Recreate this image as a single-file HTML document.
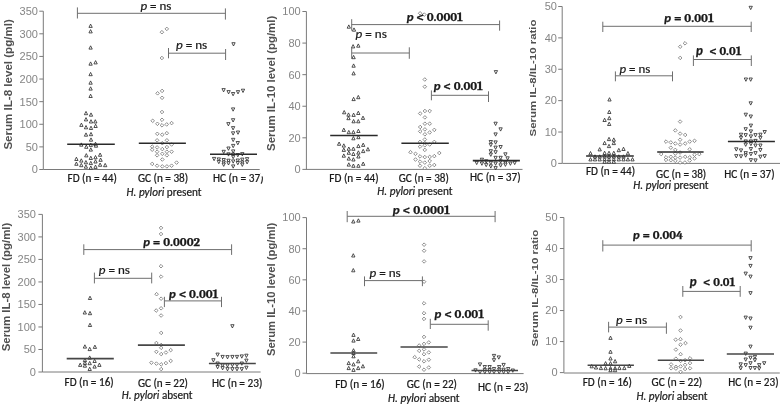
<!DOCTYPE html>
<html><head><meta charset="utf-8"><title>Serum IL-8 and IL-10 levels</title>
<style>html,body{margin:0;padding:0;background:#fff;}svg{display:block;}</style>
</head><body>
<svg width="782" height="406" viewBox="0 0 782 406">
<rect x="0" y="0" width="782" height="406" fill="#fff"/>
<line x1="43.30" y1="11.20" x2="43.30" y2="169.50" stroke="#7a7a7a" stroke-width="1.0"/>
<line x1="39.30" y1="169.50" x2="43.30" y2="169.50" stroke="#7a7a7a" stroke-width="1.0"/>
<text x="37.90" y="173.35" text-anchor="end" font-family="'Liberation Sans', Arial, sans-serif" font-size="11" fill="#858585">0</text>
<line x1="39.30" y1="146.89" x2="43.30" y2="146.89" stroke="#7a7a7a" stroke-width="1.0"/>
<text x="37.90" y="150.74" text-anchor="end" font-family="'Liberation Sans', Arial, sans-serif" font-size="11" fill="#858585">50</text>
<line x1="39.30" y1="124.27" x2="43.30" y2="124.27" stroke="#7a7a7a" stroke-width="1.0"/>
<text x="37.90" y="128.12" text-anchor="end" font-family="'Liberation Sans', Arial, sans-serif" font-size="11" fill="#858585">100</text>
<line x1="39.30" y1="101.66" x2="43.30" y2="101.66" stroke="#7a7a7a" stroke-width="1.0"/>
<text x="37.90" y="105.51" text-anchor="end" font-family="'Liberation Sans', Arial, sans-serif" font-size="11" fill="#858585">150</text>
<line x1="39.30" y1="79.04" x2="43.30" y2="79.04" stroke="#7a7a7a" stroke-width="1.0"/>
<text x="37.90" y="82.89" text-anchor="end" font-family="'Liberation Sans', Arial, sans-serif" font-size="11" fill="#858585">200</text>
<line x1="39.30" y1="56.43" x2="43.30" y2="56.43" stroke="#7a7a7a" stroke-width="1.0"/>
<text x="37.90" y="60.28" text-anchor="end" font-family="'Liberation Sans', Arial, sans-serif" font-size="11" fill="#858585">250</text>
<line x1="39.30" y1="33.81" x2="43.30" y2="33.81" stroke="#7a7a7a" stroke-width="1.0"/>
<text x="37.90" y="37.66" text-anchor="end" font-family="'Liberation Sans', Arial, sans-serif" font-size="11" fill="#858585">300</text>
<line x1="39.30" y1="11.20" x2="43.30" y2="11.20" stroke="#7a7a7a" stroke-width="1.0"/>
<text x="37.90" y="15.05" text-anchor="end" font-family="'Liberation Sans', Arial, sans-serif" font-size="11" fill="#858585">350</text>
<line x1="43.30" y1="169.50" x2="259.70" y2="169.50" stroke="#7a7a7a" stroke-width="1.0"/>
<text transform="translate(11.80,149.60) rotate(-90)" x="0" y="0" font-family="'Liberation Sans', Arial, sans-serif" font-weight="bold" font-size="11.2" fill="#505050" textLength="130.40" lengthAdjust="spacingAndGlyphs">Serum IL-8 level (pg/ml)</text>
<g fill="#fff" stroke="#262626" stroke-width="0.8">
<path d="M88.95 27.40L90.60 24.10L92.25 27.40Z"/>
<path d="M88.95 32.90L90.60 29.60L92.25 32.90Z"/>
<path d="M88.95 49.10L90.60 45.80L92.25 49.10Z"/>
<path d="M88.95 65.20L90.60 61.90L92.25 65.20Z"/>
<path d="M93.95 63.90L95.60 60.60L97.25 63.90Z"/>
<path d="M88.95 75.70L90.60 72.40L92.25 75.70Z"/>
<path d="M88.95 84.20L90.60 80.90L92.25 84.20Z"/>
<path d="M88.95 90.10L90.60 86.80L92.25 90.10Z"/>
<path d="M88.95 97.50L90.60 94.20L92.25 97.50Z"/>
<path d="M84.35 114.70L86.00 111.40L87.65 114.70Z"/>
<path d="M89.35 116.20L91.00 112.90L92.65 116.20Z"/>
<path d="M84.35 120.90L86.00 117.60L87.65 120.90Z"/>
<path d="M89.35 123.00L91.00 119.70L92.65 123.00Z"/>
<path d="M93.65 123.00L95.30 119.70L96.95 123.00Z"/>
<path d="M79.75 126.40L81.40 123.10L83.05 126.40Z"/>
<path d="M84.35 128.80L86.00 125.50L87.65 128.80Z"/>
<path d="M89.35 129.50L91.00 126.20L92.65 129.50Z"/>
<path d="M93.95 127.50L95.60 124.20L97.25 127.50Z"/>
<path d="M84.35 136.20L86.00 132.90L87.65 136.20Z"/>
<path d="M89.35 135.70L91.00 132.40L92.65 135.70Z"/>
<path d="M89.35 141.20L91.00 137.90L92.65 141.20Z"/>
<path d="M79.65 146.20L81.30 142.90L82.95 146.20Z"/>
<path d="M84.65 148.30L86.30 145.00L87.95 148.30Z"/>
<path d="M89.15 146.40L90.80 143.10L92.45 146.40Z"/>
<path d="M93.85 145.50L95.50 142.20L97.15 145.50Z"/>
<path d="M94.35 147.20L96.00 143.90L97.65 147.20Z"/>
<path d="M89.15 151.10L90.80 147.80L92.45 151.10Z"/>
<path d="M84.65 156.90L86.30 153.60L87.95 156.90Z"/>
<path d="M98.45 156.30L100.10 153.00L101.75 156.30Z"/>
<path d="M74.75 160.50L76.40 157.20L78.05 160.50Z"/>
<path d="M89.15 159.50L90.80 156.20L92.45 159.50Z"/>
<path d="M93.85 158.80L95.50 155.50L97.15 158.80Z"/>
<path d="M98.95 161.30L100.60 158.00L102.25 161.30Z"/>
<path d="M79.65 162.10L81.30 158.80L82.95 162.10Z"/>
<path d="M84.25 163.80L85.90 160.50L87.55 163.80Z"/>
<path d="M93.85 163.00L95.50 159.70L97.15 163.00Z"/>
<path d="M74.75 165.30L76.40 162.00L78.05 165.30Z"/>
<path d="M79.65 166.70L81.30 163.40L82.95 166.70Z"/>
<path d="M89.15 164.60L90.80 161.30L92.45 164.60Z"/>
<path d="M98.45 166.30L100.10 163.00L101.75 166.30Z"/>
<path d="M103.55 166.70L105.20 163.40L106.85 166.70Z"/>
<path d="M84.25 168.20L85.90 164.90L87.55 168.20Z"/>
<path d="M89.15 169.30L90.80 166.00L92.45 169.30Z"/>
<path d="M93.85 168.40L95.50 165.10L97.15 168.40Z"/>
</g>
<g fill="#fff" stroke="#6a6a6a" stroke-width="0.75">
<path d="M161.90 30.40L163.70 32.20L161.90 34.00L160.10 32.20Z"/>
<path d="M166.80 27.10L168.60 28.90L166.80 30.70L165.00 28.90Z"/>
<path d="M161.90 56.20L163.70 58.00L161.90 59.80L160.10 58.00Z"/>
<path d="M157.60 91.50L159.40 93.30L157.60 95.10L155.80 93.30Z"/>
<path d="M162.10 89.10L163.90 90.90L162.10 92.70L160.30 90.90Z"/>
<path d="M162.10 96.00L163.90 97.80L162.10 99.60L160.30 97.80Z"/>
<path d="M162.00 110.20L163.80 112.00L162.00 113.80L160.20 112.00Z"/>
<path d="M152.70 119.00L154.50 120.80L152.70 122.60L150.90 120.80Z"/>
<path d="M162.00 118.00L163.80 119.80L162.00 121.60L160.20 119.80Z"/>
<path d="M157.40 122.00L159.20 123.80L157.40 125.60L155.60 123.80Z"/>
<path d="M162.00 123.50L163.80 125.30L162.00 127.10L160.20 125.30Z"/>
<path d="M166.70 122.60L168.50 124.40L166.70 126.20L164.90 124.40Z"/>
<path d="M171.60 121.30L173.40 123.10L171.60 124.90L169.80 123.10Z"/>
<path d="M157.30 132.00L159.10 133.80L157.30 135.60L155.50 133.80Z"/>
<path d="M162.20 132.90L164.00 134.70L162.20 136.50L160.40 134.70Z"/>
<path d="M166.80 131.40L168.60 133.20L166.80 135.00L165.00 133.20Z"/>
<path d="M157.10 138.50L158.90 140.30L157.10 142.10L155.30 140.30Z"/>
<path d="M166.90 138.50L168.70 140.30L166.90 142.10L165.10 140.30Z"/>
<path d="M162.30 141.40L164.10 143.20L162.30 145.00L160.50 143.20Z"/>
<path d="M171.60 142.70L173.40 144.50L171.60 146.30L169.80 144.50Z"/>
<path d="M152.20 144.80L154.00 146.60L152.20 148.40L150.40 146.60Z"/>
<path d="M157.10 145.60L158.90 147.40L157.10 149.20L155.30 147.40Z"/>
<path d="M166.90 145.30L168.70 147.10L166.90 148.90L165.10 147.10Z"/>
<path d="M152.20 147.90L154.00 149.70L152.20 151.50L150.40 149.70Z"/>
<path d="M162.30 147.30L164.10 149.10L162.30 150.90L160.50 149.10Z"/>
<path d="M157.10 149.90L158.90 151.70L157.10 153.50L155.30 151.70Z"/>
<path d="M166.90 149.90L168.70 151.70L166.90 153.50L165.10 151.70Z"/>
<path d="M171.60 149.90L173.40 151.70L171.60 153.50L169.80 151.70Z"/>
<path d="M162.30 152.00L164.10 153.80L162.30 155.60L160.50 153.80Z"/>
<path d="M157.10 153.50L158.90 155.30L157.10 157.10L155.30 155.30Z"/>
<path d="M166.90 153.50L168.70 155.30L166.90 157.10L165.10 155.30Z"/>
<path d="M162.30 157.70L164.10 159.50L162.30 161.30L160.50 159.50Z"/>
<path d="M152.20 162.10L154.00 163.90L152.20 165.70L150.40 163.90Z"/>
<path d="M157.10 163.90L158.90 165.70L157.10 167.50L155.30 165.70Z"/>
<path d="M162.30 164.60L164.10 166.40L162.30 168.20L160.50 166.40Z"/>
<path d="M166.90 164.60L168.70 166.40L166.90 168.20L165.10 166.40Z"/>
<path d="M171.60 163.90L173.40 165.70L171.60 167.50L169.80 165.70Z"/>
<path d="M176.60 160.80L178.40 162.60L176.60 164.40L174.80 162.60Z"/>
</g>
<g fill="#fff" stroke="#262626" stroke-width="0.8">
<path d="M231.85 42.70L233.50 46.00L235.15 42.70Z"/>
<path d="M221.95 88.60L223.60 91.90L225.25 88.60Z"/>
<path d="M226.95 90.60L228.60 93.90L230.25 90.60Z"/>
<path d="M231.45 92.50L233.10 95.80L234.75 92.50Z"/>
<path d="M236.35 90.60L238.00 93.90L239.65 90.60Z"/>
<path d="M241.35 89.20L243.00 92.50L244.65 89.20Z"/>
<path d="M231.45 107.90L233.10 111.20L234.75 107.90Z"/>
<path d="M231.45 118.70L233.10 122.00L234.75 118.70Z"/>
<path d="M226.75 122.60L228.40 125.90L230.05 122.60Z"/>
<path d="M231.45 126.60L233.10 129.90L234.75 126.60Z"/>
<path d="M231.45 131.80L233.10 135.10L234.75 131.80Z"/>
<path d="M236.35 131.00L238.00 134.30L239.65 131.00Z"/>
<path d="M231.55 138.30L233.20 141.60L234.85 138.30Z"/>
<path d="M236.15 141.50L237.80 144.80L239.45 141.50Z"/>
<path d="M231.55 144.40L233.20 147.70L234.85 144.40Z"/>
<path d="M226.85 147.00L228.50 150.30L230.15 147.00Z"/>
<path d="M222.05 150.30L223.70 153.60L225.35 150.30Z"/>
<path d="M231.55 149.90L233.20 153.20L234.85 149.90Z"/>
<path d="M226.85 152.80L228.50 156.10L230.15 152.80Z"/>
<path d="M231.55 153.10L233.20 156.40L234.85 153.10Z"/>
<path d="M236.15 153.50L237.80 156.80L239.45 153.50Z"/>
<path d="M240.65 152.60L242.30 155.90L243.95 152.60Z"/>
<path d="M231.55 155.40L233.20 158.70L234.85 155.40Z"/>
<path d="M212.45 157.40L214.10 160.70L215.75 157.40Z"/>
<path d="M217.15 157.90L218.80 161.20L220.45 157.90Z"/>
<path d="M222.05 158.50L223.70 161.80L225.35 158.50Z"/>
<path d="M226.85 159.20L228.50 162.50L230.15 159.20Z"/>
<path d="M231.55 159.90L233.20 163.20L234.85 159.90Z"/>
<path d="M236.15 159.00L237.80 162.30L239.45 159.00Z"/>
<path d="M240.65 158.10L242.30 161.40L243.95 158.10Z"/>
<path d="M245.45 157.60L247.10 160.90L248.75 157.60Z"/>
<path d="M217.15 160.40L218.80 163.70L220.45 160.40Z"/>
<path d="M222.05 161.00L223.70 164.30L225.35 161.00Z"/>
<path d="M226.85 161.70L228.50 165.00L230.15 161.70Z"/>
<path d="M236.15 161.50L237.80 164.80L239.45 161.50Z"/>
<path d="M240.65 161.00L242.30 164.30L243.95 161.00Z"/>
<path d="M245.45 160.60L247.10 163.90L248.75 160.60Z"/>
<path d="M222.05 163.10L223.70 166.40L225.35 163.10Z"/>
<path d="M240.65 163.10L242.30 166.40L243.95 163.10Z"/>
<path d="M231.55 164.90L233.20 168.20L234.85 164.90Z"/>
</g>
<line x1="67.20" y1="144.20" x2="114.80" y2="144.20" stroke="#2a2a2a" stroke-width="1.55"/>
<line x1="138.80" y1="143.20" x2="185.90" y2="143.20" stroke="#2a2a2a" stroke-width="1.55"/>
<line x1="210.00" y1="154.30" x2="257.00" y2="154.30" stroke="#2a2a2a" stroke-width="1.55"/>
<line x1="77.40" y1="13.30" x2="225.40" y2="13.30" stroke="#6e6e6e" stroke-width="1"/>
<line x1="77.40" y1="7.40" x2="77.40" y2="18.50" stroke="#6e6e6e" stroke-width="1"/>
<line x1="225.40" y1="8.40" x2="225.40" y2="19.60" stroke="#6e6e6e" stroke-width="1"/>
<text x="140.40" y="10.00" font-family="Carlito, 'Liberation Sans', sans-serif" font-size="13" fill="#1a1a1a" stroke="#1a1a1a" stroke-width="0.22" textLength="31.00" lengthAdjust="spacingAndGlyphs"><tspan font-style="italic">p</tspan> = ns</text>
<line x1="168.50" y1="53.20" x2="225.60" y2="53.20" stroke="#6e6e6e" stroke-width="1"/>
<line x1="168.50" y1="48.00" x2="168.50" y2="58.30" stroke="#6e6e6e" stroke-width="1"/>
<line x1="225.60" y1="49.00" x2="225.60" y2="60.00" stroke="#6e6e6e" stroke-width="1"/>
<text x="176.00" y="49.40" font-family="Carlito, 'Liberation Sans', sans-serif" font-size="13" fill="#1a1a1a" stroke="#1a1a1a" stroke-width="0.22" textLength="31.20" lengthAdjust="spacingAndGlyphs"><tspan font-style="italic">p</tspan> = ns</text>
<text x="67.50" y="181.50" font-family="Carlito, 'Liberation Sans', sans-serif" font-size="11.2" fill="#1a1a1a" stroke="#1a1a1a" stroke-width="0.22" textLength="49.40" lengthAdjust="spacingAndGlyphs">FD (n = 44)</text>
<text x="137.90" y="181.50" font-family="Carlito, 'Liberation Sans', sans-serif" font-size="11.2" fill="#1a1a1a" stroke="#1a1a1a" stroke-width="0.22" textLength="50.30" lengthAdjust="spacingAndGlyphs">GC (n = 38)</text>
<clipPath id="c1"><rect x="0" y="0" width="260.6" height="406"/><rect x="260" y="176.6" width="6" height="10"/></clipPath>
<g clip-path="url(#c1)">
<text x="213.00" y="181.50" font-family="Carlito, 'Liberation Sans', sans-serif" font-size="11.2" fill="#1a1a1a" stroke="#1a1a1a" stroke-width="0.22" textLength="50.60" lengthAdjust="spacingAndGlyphs">HC (n = 37)</text>
</g>
<text x="126.60" y="196.00" font-family="Carlito, 'Liberation Sans', sans-serif" font-size="11.5" fill="#1a1a1a" stroke="#1a1a1a" stroke-width="0.22" textLength="74.90" lengthAdjust="spacingAndGlyphs"><tspan font-style="italic">H. pylori</tspan> present</text>
<line x1="306.40" y1="11.50" x2="306.40" y2="169.40" stroke="#7a7a7a" stroke-width="1.0"/>
<line x1="302.40" y1="169.40" x2="306.40" y2="169.40" stroke="#7a7a7a" stroke-width="1.0"/>
<text x="300.70" y="173.25" text-anchor="end" font-family="'Liberation Sans', Arial, sans-serif" font-size="11" fill="#858585">0</text>
<line x1="302.40" y1="137.82" x2="306.40" y2="137.82" stroke="#7a7a7a" stroke-width="1.0"/>
<text x="300.70" y="141.67" text-anchor="end" font-family="'Liberation Sans', Arial, sans-serif" font-size="11" fill="#858585">20</text>
<line x1="302.40" y1="106.24" x2="306.40" y2="106.24" stroke="#7a7a7a" stroke-width="1.0"/>
<text x="300.70" y="110.09" text-anchor="end" font-family="'Liberation Sans', Arial, sans-serif" font-size="11" fill="#858585">40</text>
<line x1="302.40" y1="74.66" x2="306.40" y2="74.66" stroke="#7a7a7a" stroke-width="1.0"/>
<text x="300.70" y="78.51" text-anchor="end" font-family="'Liberation Sans', Arial, sans-serif" font-size="11" fill="#858585">60</text>
<line x1="302.40" y1="43.08" x2="306.40" y2="43.08" stroke="#7a7a7a" stroke-width="1.0"/>
<text x="300.70" y="46.93" text-anchor="end" font-family="'Liberation Sans', Arial, sans-serif" font-size="11" fill="#858585">80</text>
<line x1="302.40" y1="11.50" x2="306.40" y2="11.50" stroke="#7a7a7a" stroke-width="1.0"/>
<text x="300.70" y="15.35" text-anchor="end" font-family="'Liberation Sans', Arial, sans-serif" font-size="11" fill="#858585">100</text>
<line x1="306.00" y1="169.40" x2="522.50" y2="169.40" stroke="#7a7a7a" stroke-width="1.0"/>
<text transform="translate(275.10,150.90) rotate(-90)" x="0" y="0" font-family="'Liberation Sans', Arial, sans-serif" font-weight="bold" font-size="11.2" fill="#505050" textLength="135.10" lengthAdjust="spacingAndGlyphs">Serum IL-10 level (pg/ml)</text>
<g fill="#fff" stroke="#262626" stroke-width="0.8">
<path d="M347.15 28.20L348.80 24.90L350.45 28.20Z"/>
<path d="M352.35 31.20L354.00 27.90L355.65 31.20Z"/>
<path d="M351.45 47.90L353.10 44.60L354.75 47.90Z"/>
<path d="M356.65 47.20L358.30 43.90L359.95 47.20Z"/>
<path d="M351.95 58.70L353.60 55.40L355.25 58.70Z"/>
<path d="M351.95 67.20L353.60 63.90L355.25 67.20Z"/>
<path d="M351.95 74.90L353.60 71.60L355.25 74.90Z"/>
<path d="M351.95 100.60L353.60 97.30L355.25 100.60Z"/>
<path d="M356.65 98.70L358.30 95.40L359.95 98.70Z"/>
<path d="M342.55 113.80L344.20 110.50L345.85 113.80Z"/>
<path d="M346.85 116.20L348.50 112.90L350.15 116.20Z"/>
<path d="M351.95 116.40L353.60 113.10L355.25 116.40Z"/>
<path d="M356.65 114.50L358.30 111.20L359.95 114.50Z"/>
<path d="M346.85 119.70L348.50 116.40L350.15 119.70Z"/>
<path d="M361.35 119.40L363.00 116.10L364.65 119.40Z"/>
<path d="M351.95 122.80L353.60 119.50L355.25 122.80Z"/>
<path d="M356.65 122.80L358.30 119.50L359.95 122.80Z"/>
<path d="M342.15 131.40L343.80 128.10L345.45 131.40Z"/>
<path d="M347.15 133.70L348.80 130.40L350.45 133.70Z"/>
<path d="M351.75 133.70L353.40 130.40L355.05 133.70Z"/>
<path d="M356.75 132.50L358.40 129.20L360.05 132.50Z"/>
<path d="M351.75 139.80L353.40 136.50L355.05 139.80Z"/>
<path d="M356.75 138.70L358.40 135.40L360.05 138.70Z"/>
<path d="M337.45 145.30L339.10 142.00L340.75 145.30Z"/>
<path d="M342.15 147.10L343.80 143.80L345.45 147.10Z"/>
<path d="M356.75 147.60L358.40 144.30L360.05 147.60Z"/>
<path d="M361.55 146.40L363.20 143.10L364.85 146.40Z"/>
<path d="M342.15 151.40L343.80 148.10L345.45 151.40Z"/>
<path d="M347.15 150.30L348.80 147.00L350.45 150.30Z"/>
<path d="M351.75 150.30L353.40 147.00L355.05 150.30Z"/>
<path d="M361.55 152.60L363.20 149.30L364.85 152.60Z"/>
<path d="M366.25 150.80L367.90 147.50L369.55 150.80Z"/>
<path d="M347.15 154.30L348.80 151.00L350.45 154.30Z"/>
<path d="M351.75 155.50L353.40 152.20L355.05 155.50Z"/>
<path d="M356.75 154.10L358.40 150.80L360.05 154.10Z"/>
<path d="M342.15 157.20L343.80 153.90L345.45 157.20Z"/>
<path d="M356.75 158.00L358.40 154.70L360.05 158.00Z"/>
<path d="M347.15 160.10L348.80 156.80L350.45 160.10Z"/>
<path d="M351.75 161.00L353.40 157.70L355.05 161.00Z"/>
<path d="M347.15 166.10L348.80 162.80L350.45 166.10Z"/>
<path d="M351.75 167.30L353.40 164.00L355.05 167.30Z"/>
<path d="M356.75 167.30L358.40 164.00L360.05 167.30Z"/>
<path d="M361.55 165.30L363.20 162.00L364.85 165.30Z"/>
</g>
<g fill="#fff" stroke="#6a6a6a" stroke-width="0.75">
<path d="M420.10 11.50L421.90 13.30L420.10 15.10L418.30 13.30Z"/>
<path d="M424.30 12.80L426.10 14.60L424.30 16.40L422.50 14.60Z"/>
<path d="M424.80 77.70L426.60 79.50L424.80 81.30L423.00 79.50Z"/>
<path d="M424.80 84.90L426.60 86.70L424.80 88.50L423.00 86.70Z"/>
<path d="M420.20 111.70L422.00 113.50L420.20 115.30L418.40 113.50Z"/>
<path d="M424.90 109.20L426.70 111.00L424.90 112.80L423.10 111.00Z"/>
<path d="M429.70 109.20L431.50 111.00L429.70 112.80L427.90 111.00Z"/>
<path d="M424.90 115.60L426.70 117.40L424.90 119.20L423.10 117.40Z"/>
<path d="M424.90 121.90L426.70 123.70L424.90 125.50L423.10 123.70Z"/>
<path d="M429.70 121.90L431.50 123.70L429.70 125.50L427.90 123.70Z"/>
<path d="M420.20 125.20L422.00 127.00L420.20 128.80L418.40 127.00Z"/>
<path d="M424.90 127.60L426.70 129.40L424.90 131.20L423.10 129.40Z"/>
<path d="M434.30 128.10L436.10 129.90L434.30 131.70L432.50 129.90Z"/>
<path d="M420.20 129.60L422.00 131.40L420.20 133.20L418.40 131.40Z"/>
<path d="M429.70 130.60L431.50 132.40L429.70 134.20L427.90 132.40Z"/>
<path d="M424.90 132.50L426.70 134.30L424.90 136.10L423.10 134.30Z"/>
<path d="M424.80 137.70L426.60 139.50L424.80 141.30L423.00 139.50Z"/>
<path d="M420.00 140.10L421.80 141.90L420.00 143.70L418.20 141.90Z"/>
<path d="M434.30 140.10L436.10 141.90L434.30 143.70L432.50 141.90Z"/>
<path d="M424.80 141.40L426.60 143.20L424.80 145.00L423.00 143.20Z"/>
<path d="M429.70 142.70L431.50 144.50L429.70 146.30L427.90 144.50Z"/>
<path d="M420.00 144.80L421.80 146.60L420.00 148.40L418.20 146.60Z"/>
<path d="M424.80 143.50L426.60 145.30L424.80 147.10L423.00 145.30Z"/>
<path d="M424.80 148.10L426.60 149.90L424.80 151.70L423.00 149.90Z"/>
<path d="M410.50 150.40L412.30 152.20L410.50 154.00L408.70 152.20Z"/>
<path d="M415.50 152.00L417.30 153.80L415.50 155.60L413.70 153.80Z"/>
<path d="M439.30 151.20L441.10 153.00L439.30 154.80L437.50 153.00Z"/>
<path d="M420.00 154.60L421.80 156.40L420.00 158.20L418.20 156.40Z"/>
<path d="M424.80 155.30L426.60 157.10L424.80 158.90L423.00 157.10Z"/>
<path d="M429.70 155.10L431.50 156.90L429.70 158.70L427.90 156.90Z"/>
<path d="M434.30 154.30L436.10 156.10L434.30 157.90L432.50 156.10Z"/>
<path d="M415.50 157.70L417.30 159.50L415.50 161.30L413.70 159.50Z"/>
<path d="M429.70 159.20L431.50 161.00L429.70 162.80L427.90 161.00Z"/>
<path d="M420.00 159.80L421.80 161.60L420.00 163.40L418.20 161.60Z"/>
<path d="M424.80 160.80L426.60 162.60L424.80 164.40L423.00 162.60Z"/>
<path d="M420.00 163.90L421.80 165.70L420.00 167.50L418.20 165.70Z"/>
<path d="M429.70 163.90L431.50 165.70L429.70 167.50L427.90 165.70Z"/>
<path d="M434.30 163.20L436.10 165.00L434.30 166.80L432.50 165.00Z"/>
<path d="M424.80 166.40L426.60 168.20L424.80 170.00L423.00 168.20Z"/>
</g>
<g fill="#fff" stroke="#262626" stroke-width="0.8">
<path d="M494.25 70.60L495.90 73.90L497.55 70.60Z"/>
<path d="M493.95 122.20L495.60 125.50L497.25 122.20Z"/>
<path d="M498.95 127.80L500.60 131.10L502.25 127.80Z"/>
<path d="M493.95 132.90L495.60 136.20L497.25 132.90Z"/>
<path d="M489.15 140.50L490.80 143.80L492.45 140.50Z"/>
<path d="M493.95 140.90L495.60 144.20L497.25 140.90Z"/>
<path d="M489.15 143.30L490.80 146.60L492.45 143.30Z"/>
<path d="M493.95 146.10L495.60 149.40L497.25 146.10Z"/>
<path d="M498.95 145.50L500.60 148.80L502.25 145.50Z"/>
<path d="M489.15 149.70L490.80 153.00L492.45 149.70Z"/>
<path d="M493.95 150.70L495.60 154.00L497.25 150.70Z"/>
<path d="M503.75 152.80L505.40 156.10L507.05 152.80Z"/>
<path d="M489.15 153.10L490.80 156.40L492.45 153.10Z"/>
<path d="M480.25 158.20L481.90 161.50L483.55 158.20Z"/>
<path d="M493.95 156.30L495.60 159.60L497.25 156.30Z"/>
<path d="M498.95 156.30L500.60 159.60L502.25 156.30Z"/>
<path d="M505.95 156.80L507.60 160.10L509.25 156.80Z"/>
<path d="M475.05 161.30L476.70 164.60L478.35 161.30Z"/>
<path d="M480.25 162.00L481.90 165.30L483.55 162.00Z"/>
<path d="M484.55 159.80L486.20 163.10L487.85 159.80Z"/>
<path d="M489.15 161.30L490.80 164.60L492.45 161.30Z"/>
<path d="M493.95 162.00L495.60 165.30L497.25 162.00Z"/>
<path d="M498.95 159.80L500.60 163.10L502.25 159.80Z"/>
<path d="M503.75 161.30L505.40 164.60L507.05 161.30Z"/>
<path d="M508.75 162.00L510.40 165.30L512.05 162.00Z"/>
<path d="M513.05 161.30L514.70 164.60L516.35 161.30Z"/>
<path d="M484.55 163.40L486.20 166.70L487.85 163.40Z"/>
<path d="M489.15 164.80L490.80 168.10L492.45 164.80Z"/>
<path d="M498.95 163.80L500.60 167.10L502.25 163.80Z"/>
<path d="M503.75 163.10L505.40 166.40L507.05 163.10Z"/>
<path d="M493.95 166.60L495.60 169.90L497.25 166.60Z"/>
</g>
<line x1="330.20" y1="135.40" x2="377.70" y2="135.40" stroke="#2a2a2a" stroke-width="1.55"/>
<line x1="401.40" y1="143.20" x2="448.80" y2="143.20" stroke="#2a2a2a" stroke-width="1.55"/>
<line x1="472.80" y1="160.60" x2="519.90" y2="160.60" stroke="#2a2a2a" stroke-width="1.55"/>
<line x1="351.70" y1="24.60" x2="499.60" y2="24.60" stroke="#6e6e6e" stroke-width="1"/>
<line x1="351.70" y1="19.20" x2="351.70" y2="30.70" stroke="#6e6e6e" stroke-width="1"/>
<line x1="499.60" y1="20.50" x2="499.60" y2="30.70" stroke="#6e6e6e" stroke-width="1"/>
<text x="406.70" y="21.00" font-family="Caladea, 'Liberation Serif', serif" font-size="12.0" font-weight="bold" fill="#1a1a1a" stroke="#1a1a1a" stroke-width="0.25" textLength="56.30" lengthAdjust="spacingAndGlyphs"><tspan font-family="Carlito, 'Liberation Sans', sans-serif" font-style="italic">p</tspan> &lt; 0.0001</text>
<line x1="351.70" y1="53.00" x2="409.30" y2="53.00" stroke="#6e6e6e" stroke-width="1"/>
<line x1="351.70" y1="47.30" x2="351.70" y2="58.80" stroke="#6e6e6e" stroke-width="1"/>
<line x1="409.30" y1="47.30" x2="409.30" y2="58.80" stroke="#6e6e6e" stroke-width="1"/>
<text x="355.60" y="37.90" font-family="Carlito, 'Liberation Sans', sans-serif" font-size="13" fill="#1a1a1a" stroke="#1a1a1a" stroke-width="0.22" textLength="31.20" lengthAdjust="spacingAndGlyphs"><tspan font-style="italic">p</tspan> = ns</text>
<line x1="431.40" y1="95.30" x2="488.50" y2="95.30" stroke="#6e6e6e" stroke-width="1"/>
<line x1="431.40" y1="90.40" x2="431.40" y2="100.30" stroke="#6e6e6e" stroke-width="1"/>
<line x1="488.50" y1="91.30" x2="488.50" y2="102.00" stroke="#6e6e6e" stroke-width="1"/>
<text x="433.70" y="89.50" font-family="Caladea, 'Liberation Serif', serif" font-size="12.0" font-weight="bold" fill="#1a1a1a" stroke="#1a1a1a" stroke-width="0.25" textLength="49.30" lengthAdjust="spacingAndGlyphs"><tspan font-family="Carlito, 'Liberation Sans', sans-serif" font-style="italic">p</tspan> &lt; 0.001</text>
<text x="329.30" y="182.30" font-family="Carlito, 'Liberation Sans', sans-serif" font-size="11.2" fill="#1a1a1a" stroke="#1a1a1a" stroke-width="0.22" textLength="49.40" lengthAdjust="spacingAndGlyphs">FD (n = 44)</text>
<text x="398.80" y="182.30" font-family="Carlito, 'Liberation Sans', sans-serif" font-size="11.2" fill="#1a1a1a" stroke="#1a1a1a" stroke-width="0.22" textLength="50.10" lengthAdjust="spacingAndGlyphs">GC (n = 38)</text>
<text x="470.00" y="181.30" font-family="Carlito, 'Liberation Sans', sans-serif" font-size="11.2" fill="#1a1a1a" stroke="#1a1a1a" stroke-width="0.22" textLength="50.80" lengthAdjust="spacingAndGlyphs">HC (n = 37)</text>
<text x="377.30" y="194.60" font-family="Carlito, 'Liberation Sans', sans-serif" font-size="11.5" fill="#1a1a1a" stroke="#1a1a1a" stroke-width="0.22" textLength="75.20" lengthAdjust="spacingAndGlyphs"><tspan font-style="italic">H. pylori</tspan> present</text>
<line x1="562.20" y1="6.50" x2="562.20" y2="163.40" stroke="#7a7a7a" stroke-width="1.0"/>
<line x1="558.20" y1="163.40" x2="562.20" y2="163.40" stroke="#7a7a7a" stroke-width="1.0"/>
<text x="556.90" y="167.25" text-anchor="end" font-family="'Liberation Sans', Arial, sans-serif" font-size="11" fill="#858585">0</text>
<line x1="558.20" y1="132.02" x2="562.20" y2="132.02" stroke="#7a7a7a" stroke-width="1.0"/>
<text x="556.90" y="135.87" text-anchor="end" font-family="'Liberation Sans', Arial, sans-serif" font-size="11" fill="#858585">10</text>
<line x1="558.20" y1="100.64" x2="562.20" y2="100.64" stroke="#7a7a7a" stroke-width="1.0"/>
<text x="556.90" y="104.49" text-anchor="end" font-family="'Liberation Sans', Arial, sans-serif" font-size="11" fill="#858585">20</text>
<line x1="558.20" y1="69.26" x2="562.20" y2="69.26" stroke="#7a7a7a" stroke-width="1.0"/>
<text x="556.90" y="73.11" text-anchor="end" font-family="'Liberation Sans', Arial, sans-serif" font-size="11" fill="#858585">30</text>
<line x1="558.20" y1="37.88" x2="562.20" y2="37.88" stroke="#7a7a7a" stroke-width="1.0"/>
<text x="556.90" y="41.73" text-anchor="end" font-family="'Liberation Sans', Arial, sans-serif" font-size="11" fill="#858585">40</text>
<line x1="558.20" y1="6.50" x2="562.20" y2="6.50" stroke="#7a7a7a" stroke-width="1.0"/>
<text x="556.90" y="10.35" text-anchor="end" font-family="'Liberation Sans', Arial, sans-serif" font-size="11" fill="#858585">50</text>
<line x1="562.40" y1="163.40" x2="780.00" y2="163.40" stroke="#7a7a7a" stroke-width="1.0"/>
<text transform="translate(536.10,136.40) rotate(-90)" x="0" y="0" font-family="'Liberation Sans', Arial, sans-serif" font-weight="bold" font-size="9.6" fill="#505050" textLength="116.90" lengthAdjust="spacingAndGlyphs">Serum IL-8/IL-10 ratio</text>
<g fill="#fff" stroke="#262626" stroke-width="0.8">
<path d="M607.85 101.00L609.50 97.70L611.15 101.00Z"/>
<path d="M607.65 113.50L609.30 110.20L610.95 113.50Z"/>
<path d="M602.95 121.50L604.60 118.20L606.25 121.50Z"/>
<path d="M607.65 119.70L609.30 116.40L610.95 119.70Z"/>
<path d="M607.55 125.50L609.20 122.20L610.85 125.50Z"/>
<path d="M607.35 140.60L609.00 137.30L610.65 140.60Z"/>
<path d="M612.15 141.20L613.80 137.90L615.45 141.20Z"/>
<path d="M602.95 144.60L604.60 141.30L606.25 144.60Z"/>
<path d="M612.15 144.60L613.80 141.30L615.45 144.60Z"/>
<path d="M607.35 147.60L609.00 144.30L610.65 147.60Z"/>
<path d="M598.05 150.90L599.70 147.60L601.35 150.90Z"/>
<path d="M617.15 151.70L618.80 148.40L620.45 151.70Z"/>
<path d="M621.85 150.50L623.50 147.20L625.15 150.50Z"/>
<path d="M588.85 154.80L590.50 151.50L592.15 154.80Z"/>
<path d="M602.95 154.50L604.60 151.20L606.25 154.50Z"/>
<path d="M607.35 154.50L609.00 151.20L610.65 154.50Z"/>
<path d="M612.15 154.50L613.80 151.20L615.45 154.50Z"/>
<path d="M626.25 154.80L627.90 151.50L629.55 154.80Z"/>
<path d="M593.35 158.10L595.00 154.80L596.65 158.10Z"/>
<path d="M598.05 158.10L599.70 154.80L601.35 158.10Z"/>
<path d="M602.95 158.10L604.60 154.80L606.25 158.10Z"/>
<path d="M607.35 158.10L609.00 154.80L610.65 158.10Z"/>
<path d="M612.15 158.10L613.80 154.80L615.45 158.10Z"/>
<path d="M617.15 158.10L618.80 154.80L620.45 158.10Z"/>
<path d="M621.85 158.10L623.50 154.80L625.15 158.10Z"/>
<path d="M588.85 160.90L590.50 157.60L592.15 160.90Z"/>
<path d="M593.35 160.90L595.00 157.60L596.65 160.90Z"/>
<path d="M598.05 160.90L599.70 157.60L601.35 160.90Z"/>
<path d="M602.95 160.90L604.60 157.60L606.25 160.90Z"/>
<path d="M607.35 160.90L609.00 157.60L610.65 160.90Z"/>
<path d="M612.15 160.90L613.80 157.60L615.45 160.90Z"/>
<path d="M617.15 160.90L618.80 157.60L620.45 160.90Z"/>
<path d="M621.85 160.90L623.50 157.60L625.15 160.90Z"/>
<path d="M626.25 160.90L627.90 157.60L629.55 160.90Z"/>
<path d="M630.85 160.90L632.50 157.60L634.15 160.90Z"/>
<path d="M602.95 163.30L604.60 160.00L606.25 163.30Z"/>
<path d="M607.35 163.30L609.00 160.00L610.65 163.30Z"/>
<path d="M612.15 163.30L613.80 160.00L615.45 163.30Z"/>
</g>
<g fill="#fff" stroke="#6a6a6a" stroke-width="0.75">
<path d="M680.20 44.90L682.00 46.70L680.20 48.50L678.40 46.70Z"/>
<path d="M685.00 41.50L686.80 43.30L685.00 45.10L683.20 43.30Z"/>
<path d="M680.20 56.10L682.00 57.90L680.20 59.70L678.40 57.90Z"/>
<path d="M680.10 119.80L681.90 121.60L680.10 123.40L678.30 121.60Z"/>
<path d="M675.30 128.60L677.10 130.40L675.30 132.20L673.50 130.40Z"/>
<path d="M680.10 131.80L681.90 133.60L680.10 135.40L678.30 133.60Z"/>
<path d="M685.20 133.10L687.00 134.90L685.20 136.70L683.40 134.90Z"/>
<path d="M680.10 137.90L681.90 139.70L680.10 141.50L678.30 139.70Z"/>
<path d="M666.00 139.80L667.80 141.60L666.00 143.40L664.20 141.60Z"/>
<path d="M670.80 140.60L672.60 142.40L670.80 144.20L669.00 142.40Z"/>
<path d="M675.30 141.70L677.10 143.50L675.30 145.30L673.50 143.50Z"/>
<path d="M680.10 142.70L681.90 144.50L680.10 146.30L678.30 144.50Z"/>
<path d="M685.20 141.70L687.00 143.50L685.20 145.30L683.40 143.50Z"/>
<path d="M689.70 139.80L691.50 141.60L689.70 143.40L687.90 141.60Z"/>
<path d="M694.50 139.00L696.30 140.80L694.50 142.60L692.70 140.80Z"/>
<path d="M670.80 145.90L672.60 147.70L670.80 149.50L669.00 147.70Z"/>
<path d="M675.30 148.10L677.10 149.90L675.30 151.70L673.50 149.90Z"/>
<path d="M689.70 147.50L691.50 149.30L689.70 151.10L687.90 149.30Z"/>
<path d="M661.20 152.30L663.00 154.10L661.20 155.90L659.40 154.10Z"/>
<path d="M675.30 151.80L677.10 153.60L675.30 155.40L673.50 153.60Z"/>
<path d="M680.10 150.70L681.90 152.50L680.10 154.30L678.30 152.50Z"/>
<path d="M694.50 152.90L696.30 154.70L694.50 156.50L692.70 154.70Z"/>
<path d="M699.30 152.30L701.10 154.10L699.30 155.90L697.50 154.10Z"/>
<path d="M666.00 155.50L667.80 157.30L666.00 159.10L664.20 157.30Z"/>
<path d="M670.80 155.00L672.60 156.80L670.80 158.60L669.00 156.80Z"/>
<path d="M675.30 155.80L677.10 157.60L675.30 159.40L673.50 157.60Z"/>
<path d="M680.10 155.80L681.90 157.60L680.10 159.40L678.30 157.60Z"/>
<path d="M685.20 155.00L687.00 156.80L685.20 158.60L683.40 156.80Z"/>
<path d="M689.70 155.50L691.50 157.30L689.70 159.10L687.90 157.30Z"/>
<path d="M694.50 156.60L696.30 158.40L694.50 160.20L692.70 158.40Z"/>
<path d="M666.00 158.10L667.80 159.90L666.00 161.70L664.20 159.90Z"/>
<path d="M670.80 158.40L672.60 160.20L670.80 162.00L669.00 160.20Z"/>
<path d="M675.30 159.00L677.10 160.80L675.30 162.60L673.50 160.80Z"/>
<path d="M689.70 158.70L691.50 160.50L689.70 162.30L687.90 160.50Z"/>
<path d="M680.10 160.70L681.90 162.50L680.10 164.30L678.30 162.50Z"/>
<path d="M684.90 160.70L686.70 162.50L684.90 164.30L683.10 162.50Z"/>
</g>
<g fill="#fff" stroke="#262626" stroke-width="0.8">
<path d="M749.05 6.30L750.70 9.60L752.35 6.30Z"/>
<path d="M744.25 78.00L745.90 81.30L747.55 78.00Z"/>
<path d="M749.05 78.00L750.70 81.30L752.35 78.00Z"/>
<path d="M749.05 101.80L750.70 105.10L752.35 101.80Z"/>
<path d="M744.15 113.20L745.80 116.50L747.45 113.20Z"/>
<path d="M749.15 115.00L750.80 118.30L752.45 115.00Z"/>
<path d="M749.25 124.10L750.90 127.40L752.55 124.10Z"/>
<path d="M744.05 127.70L745.70 131.00L747.35 127.70Z"/>
<path d="M749.25 129.90L750.90 133.20L752.55 129.90Z"/>
<path d="M763.05 130.50L764.70 133.80L766.35 130.50Z"/>
<path d="M739.35 133.20L741.00 136.50L742.65 133.20Z"/>
<path d="M744.05 133.60L745.70 136.90L747.35 133.60Z"/>
<path d="M749.25 134.90L750.90 138.20L752.55 134.90Z"/>
<path d="M753.85 133.60L755.50 136.90L757.15 133.60Z"/>
<path d="M758.75 133.20L760.40 136.50L762.05 133.20Z"/>
<path d="M739.35 136.30L741.00 139.60L742.65 136.30Z"/>
<path d="M758.75 136.30L760.40 139.60L762.05 136.30Z"/>
<path d="M744.05 139.90L745.70 143.20L747.35 139.90Z"/>
<path d="M749.25 139.90L750.90 143.20L752.55 139.90Z"/>
<path d="M753.85 139.40L755.50 142.70L757.15 139.40Z"/>
<path d="M744.05 143.10L745.70 146.40L747.35 143.10Z"/>
<path d="M749.25 142.40L750.90 145.70L752.55 142.40Z"/>
<path d="M753.85 144.00L755.50 147.30L757.15 144.00Z"/>
<path d="M758.75 144.00L760.40 147.30L762.05 144.00Z"/>
<path d="M734.65 147.80L736.30 151.10L737.95 147.80Z"/>
<path d="M739.35 148.90L741.00 152.20L742.65 148.90Z"/>
<path d="M749.25 147.50L750.90 150.80L752.55 147.50Z"/>
<path d="M758.75 148.50L760.40 151.80L762.05 148.50Z"/>
<path d="M744.05 151.60L745.70 154.90L747.35 151.60Z"/>
<path d="M749.25 152.50L750.90 155.80L752.55 152.50Z"/>
<path d="M753.85 151.60L755.50 154.90L757.15 151.60Z"/>
<path d="M734.65 154.60L736.30 157.90L737.95 154.60Z"/>
<path d="M739.35 154.80L741.00 158.10L742.65 154.80Z"/>
<path d="M744.05 153.90L745.70 157.20L747.35 153.90Z"/>
<path d="M758.75 155.20L760.40 158.50L762.05 155.20Z"/>
<path d="M763.05 154.60L764.70 157.90L766.35 154.60Z"/>
<path d="M749.25 158.60L750.90 161.90L752.55 158.60Z"/>
<path d="M753.85 158.90L755.50 162.20L757.15 158.90Z"/>
</g>
<line x1="586.10" y1="156.00" x2="633.80" y2="156.00" stroke="#2a2a2a" stroke-width="1.55"/>
<line x1="657.20" y1="152.00" x2="703.60" y2="152.00" stroke="#2a2a2a" stroke-width="1.55"/>
<line x1="727.90" y1="141.40" x2="774.90" y2="141.40" stroke="#2a2a2a" stroke-width="1.55"/>
<line x1="602.80" y1="26.30" x2="751.20" y2="26.30" stroke="#6e6e6e" stroke-width="1"/>
<line x1="602.80" y1="21.70" x2="602.80" y2="32.00" stroke="#6e6e6e" stroke-width="1"/>
<line x1="751.20" y1="21.70" x2="751.20" y2="32.00" stroke="#6e6e6e" stroke-width="1"/>
<text x="664.30" y="21.70" font-family="Caladea, 'Liberation Serif', serif" font-size="12.0" font-weight="bold" fill="#1a1a1a" stroke="#1a1a1a" stroke-width="0.25" textLength="49.50" lengthAdjust="spacingAndGlyphs"><tspan font-family="Carlito, 'Liberation Sans', sans-serif" font-style="italic">p</tspan> = 0.001</text>
<line x1="693.40" y1="59.50" x2="751.30" y2="59.50" stroke="#6e6e6e" stroke-width="1"/>
<line x1="693.40" y1="55.40" x2="693.40" y2="66.00" stroke="#6e6e6e" stroke-width="1"/>
<line x1="751.30" y1="55.40" x2="751.30" y2="66.00" stroke="#6e6e6e" stroke-width="1"/>
<g font-family="Caladea, 'Liberation Serif', serif" font-size="12.0" font-weight="bold" fill="#1a1a1a" stroke="#1a1a1a" stroke-width="0.25">
<text x="695.90" y="55.40" font-family="Carlito, 'Liberation Sans', sans-serif" font-size="13" font-style="italic">p</text>
<text x="709.30" y="55.40" textLength="32.10" lengthAdjust="spacingAndGlyphs">&lt; 0.01</text>
</g>
<line x1="615.40" y1="75.80" x2="672.50" y2="75.80" stroke="#6e6e6e" stroke-width="1"/>
<line x1="615.40" y1="71.40" x2="615.40" y2="81.30" stroke="#6e6e6e" stroke-width="1"/>
<line x1="672.50" y1="71.40" x2="672.50" y2="81.30" stroke="#6e6e6e" stroke-width="1"/>
<text x="619.50" y="72.70" font-family="Carlito, 'Liberation Sans', sans-serif" font-size="13" fill="#1a1a1a" stroke="#1a1a1a" stroke-width="0.22" textLength="30.80" lengthAdjust="spacingAndGlyphs"><tspan font-style="italic">p</tspan> = ns</text>
<text x="585.90" y="174.70" font-family="Carlito, 'Liberation Sans', sans-serif" font-size="11.2" fill="#1a1a1a" stroke="#1a1a1a" stroke-width="0.22" textLength="49.20" lengthAdjust="spacingAndGlyphs">FD (n = 44)</text>
<text x="656.10" y="178.40" font-family="Carlito, 'Liberation Sans', sans-serif" font-size="11.2" fill="#1a1a1a" stroke="#1a1a1a" stroke-width="0.22" textLength="50.10" lengthAdjust="spacingAndGlyphs">GC (n = 38)</text>
<text x="724.30" y="177.80" font-family="Carlito, 'Liberation Sans', sans-serif" font-size="11.2" fill="#1a1a1a" stroke="#1a1a1a" stroke-width="0.22" textLength="50.40" lengthAdjust="spacingAndGlyphs">HC (n = 37)</text>
<text x="633.30" y="189.00" font-family="Carlito, 'Liberation Sans', sans-serif" font-size="11.5" fill="#1a1a1a" stroke="#1a1a1a" stroke-width="0.22" textLength="75.20" lengthAdjust="spacingAndGlyphs"><tspan font-style="italic">H. pylori</tspan> present</text>
<line x1="42.40" y1="214.40" x2="42.40" y2="372.00" stroke="#7a7a7a" stroke-width="1.0"/>
<line x1="38.40" y1="372.00" x2="42.40" y2="372.00" stroke="#7a7a7a" stroke-width="1.0"/>
<text x="35.90" y="375.85" text-anchor="end" font-family="'Liberation Sans', Arial, sans-serif" font-size="11" fill="#858585">0</text>
<line x1="38.40" y1="349.49" x2="42.40" y2="349.49" stroke="#7a7a7a" stroke-width="1.0"/>
<text x="35.90" y="353.34" text-anchor="end" font-family="'Liberation Sans', Arial, sans-serif" font-size="11" fill="#858585">50</text>
<line x1="38.40" y1="326.97" x2="42.40" y2="326.97" stroke="#7a7a7a" stroke-width="1.0"/>
<text x="35.90" y="330.82" text-anchor="end" font-family="'Liberation Sans', Arial, sans-serif" font-size="11" fill="#858585">100</text>
<line x1="38.40" y1="304.46" x2="42.40" y2="304.46" stroke="#7a7a7a" stroke-width="1.0"/>
<text x="35.90" y="308.31" text-anchor="end" font-family="'Liberation Sans', Arial, sans-serif" font-size="11" fill="#858585">150</text>
<line x1="38.40" y1="281.94" x2="42.40" y2="281.94" stroke="#7a7a7a" stroke-width="1.0"/>
<text x="35.90" y="285.79" text-anchor="end" font-family="'Liberation Sans', Arial, sans-serif" font-size="11" fill="#858585">200</text>
<line x1="38.40" y1="259.43" x2="42.40" y2="259.43" stroke="#7a7a7a" stroke-width="1.0"/>
<text x="35.90" y="263.28" text-anchor="end" font-family="'Liberation Sans', Arial, sans-serif" font-size="11" fill="#858585">250</text>
<line x1="38.40" y1="236.91" x2="42.40" y2="236.91" stroke="#7a7a7a" stroke-width="1.0"/>
<text x="35.90" y="240.76" text-anchor="end" font-family="'Liberation Sans', Arial, sans-serif" font-size="11" fill="#858585">300</text>
<line x1="38.40" y1="214.40" x2="42.40" y2="214.40" stroke="#7a7a7a" stroke-width="1.0"/>
<text x="35.90" y="218.25" text-anchor="end" font-family="'Liberation Sans', Arial, sans-serif" font-size="11" fill="#858585">350</text>
<line x1="42.40" y1="372.00" x2="260.60" y2="372.00" stroke="#7a7a7a" stroke-width="1.0"/>
<text transform="translate(9.90,351.30) rotate(-90)" x="0" y="0" font-family="'Liberation Sans', Arial, sans-serif" font-weight="bold" font-size="11.2" fill="#505050" textLength="128.60" lengthAdjust="spacingAndGlyphs">Serum IL-8 level (pg/ml)</text>
<g fill="#fff" stroke="#262626" stroke-width="0.8">
<path d="M88.35 299.50L90.00 296.20L91.65 299.50Z"/>
<path d="M83.15 314.00L84.80 310.70L86.45 314.00Z"/>
<path d="M88.35 314.70L90.00 311.40L91.65 314.70Z"/>
<path d="M88.35 326.50L90.00 323.20L91.65 326.50Z"/>
<path d="M83.25 348.10L84.90 344.80L86.55 348.10Z"/>
<path d="M88.05 350.60L89.70 347.30L91.35 350.60Z"/>
<path d="M93.25 348.40L94.90 345.10L96.55 348.40Z"/>
<path d="M88.05 359.20L89.70 355.90L91.35 359.20Z"/>
<path d="M83.25 361.70L84.90 358.40L86.55 361.70Z"/>
<path d="M92.95 362.50L94.60 359.20L96.25 362.50Z"/>
<path d="M83.25 364.40L84.90 361.10L86.55 364.40Z"/>
<path d="M88.05 364.70L89.70 361.40L91.35 364.70Z"/>
<path d="M78.55 366.40L80.20 363.10L81.85 366.40Z"/>
<path d="M83.25 367.20L84.90 363.90L86.55 367.20Z"/>
<path d="M92.95 368.10L94.60 364.80L96.25 368.10Z"/>
<path d="M97.75 366.40L99.40 363.10L101.05 366.40Z"/>
<path d="M88.05 370.50L89.70 367.20L91.35 370.50Z"/>
</g>
<g fill="#fff" stroke="#6a6a6a" stroke-width="0.75">
<path d="M161.00 226.10L162.80 227.90L161.00 229.70L159.20 227.90Z"/>
<path d="M161.00 232.20L162.80 234.00L161.00 235.80L159.20 234.00Z"/>
<path d="M161.00 264.40L162.80 266.20L161.00 268.00L159.20 266.20Z"/>
<path d="M161.00 274.80L162.80 276.60L161.00 278.40L159.20 276.60Z"/>
<path d="M156.60 292.40L158.40 294.20L156.60 296.00L154.80 294.20Z"/>
<path d="M161.10 296.90L162.90 298.70L161.10 300.50L159.30 298.70Z"/>
<path d="M161.10 306.50L162.90 308.30L161.10 310.10L159.30 308.30Z"/>
<path d="M156.20 308.70L158.00 310.50L156.20 312.30L154.40 310.50Z"/>
<path d="M161.10 313.70L162.90 315.50L161.10 317.30L159.30 315.50Z"/>
<path d="M161.20 331.10L163.00 332.90L161.20 334.70L159.40 332.90Z"/>
<path d="M156.40 341.20L158.20 343.00L156.40 344.80L154.60 343.00Z"/>
<path d="M161.20 343.20L163.00 345.00L161.20 346.80L159.40 345.00Z"/>
<path d="M161.20 346.00L163.00 347.80L161.20 349.60L159.40 347.80Z"/>
<path d="M156.40 350.00L158.20 351.80L156.40 353.60L154.60 351.80Z"/>
<path d="M161.20 352.30L163.00 354.10L161.20 355.90L159.40 354.10Z"/>
<path d="M165.90 350.70L167.70 352.50L165.90 354.30L164.10 352.50Z"/>
<path d="M170.70 348.30L172.50 350.10L170.70 351.90L168.90 350.10Z"/>
<path d="M151.40 360.90L153.20 362.70L151.40 364.50L149.60 362.70Z"/>
<path d="M156.40 361.80L158.20 363.60L156.40 365.40L154.60 363.60Z"/>
<path d="M161.20 362.60L163.00 364.40L161.20 366.20L159.40 364.40Z"/>
<path d="M165.90 361.30L167.70 363.10L165.90 364.90L164.10 363.10Z"/>
<path d="M170.70 359.10L172.50 360.90L170.70 362.70L168.90 360.90Z"/>
<path d="M161.20 367.30L163.00 369.10L161.20 370.90L159.40 369.10Z"/>
</g>
<g fill="#fff" stroke="#262626" stroke-width="0.8">
<path d="M230.75 324.70L232.40 328.00L234.05 324.70Z"/>
<path d="M215.95 353.10L217.60 356.40L219.25 353.10Z"/>
<path d="M220.95 355.40L222.60 358.70L224.25 355.40Z"/>
<path d="M225.85 355.60L227.50 358.90L229.15 355.60Z"/>
<path d="M230.75 355.40L232.40 358.70L234.05 355.40Z"/>
<path d="M235.35 355.40L237.00 358.70L238.65 355.40Z"/>
<path d="M240.15 354.90L241.80 358.20L243.45 354.90Z"/>
<path d="M244.75 354.20L246.40 357.50L248.05 354.20Z"/>
<path d="M211.75 358.70L213.40 362.00L215.05 358.70Z"/>
<path d="M244.75 359.10L246.40 362.40L248.05 359.10Z"/>
<path d="M215.95 362.00L217.60 365.30L219.25 362.00Z"/>
<path d="M240.15 362.00L241.80 365.30L243.45 362.00Z"/>
<path d="M220.95 363.80L222.60 367.10L224.25 363.80Z"/>
<path d="M225.85 363.80L227.50 367.10L229.15 363.80Z"/>
<path d="M230.75 363.40L232.40 366.70L234.05 363.40Z"/>
<path d="M235.35 363.40L237.00 366.70L238.65 363.40Z"/>
<path d="M215.95 365.50L217.60 368.80L219.25 365.50Z"/>
<path d="M220.95 366.60L222.60 369.90L224.25 366.60Z"/>
<path d="M225.85 367.60L227.50 370.90L229.15 367.60Z"/>
<path d="M230.75 367.60L232.40 370.90L234.05 367.60Z"/>
<path d="M235.35 367.60L237.00 370.90L238.65 367.60Z"/>
<path d="M240.15 367.60L241.80 370.90L243.45 367.60Z"/>
<path d="M244.75 366.20L246.40 369.50L248.05 366.20Z"/>
</g>
<line x1="66.70" y1="358.60" x2="113.80" y2="358.60" stroke="#464646" stroke-width="1.55"/>
<line x1="137.90" y1="345.10" x2="184.90" y2="345.10" stroke="#464646" stroke-width="1.55"/>
<line x1="208.90" y1="363.50" x2="255.80" y2="363.50" stroke="#464646" stroke-width="1.55"/>
<line x1="83.80" y1="249.60" x2="231.60" y2="249.60" stroke="#6e6e6e" stroke-width="1"/>
<line x1="83.80" y1="244.30" x2="83.80" y2="254.90" stroke="#6e6e6e" stroke-width="1"/>
<line x1="231.60" y1="244.30" x2="231.60" y2="254.90" stroke="#6e6e6e" stroke-width="1"/>
<text x="143.20" y="246.10" font-family="Caladea, 'Liberation Serif', serif" font-size="12.0" font-weight="bold" fill="#1a1a1a" stroke="#1a1a1a" stroke-width="0.25" textLength="56.80" lengthAdjust="spacingAndGlyphs"><tspan font-family="Carlito, 'Liberation Sans', sans-serif" font-style="italic">p</tspan> = 0.0002</text>
<line x1="94.40" y1="278.30" x2="151.70" y2="278.30" stroke="#6e6e6e" stroke-width="1"/>
<line x1="94.40" y1="272.60" x2="94.40" y2="283.40" stroke="#6e6e6e" stroke-width="1"/>
<line x1="151.70" y1="272.60" x2="151.70" y2="283.40" stroke="#6e6e6e" stroke-width="1"/>
<text x="98.80" y="274.20" font-family="Carlito, 'Liberation Sans', sans-serif" font-size="13" fill="#1a1a1a" stroke="#1a1a1a" stroke-width="0.22" textLength="31.10" lengthAdjust="spacingAndGlyphs"><tspan font-style="italic">p</tspan> = ns</text>
<line x1="164.40" y1="300.90" x2="221.50" y2="300.90" stroke="#6e6e6e" stroke-width="1"/>
<line x1="164.40" y1="296.80" x2="164.40" y2="307.10" stroke="#6e6e6e" stroke-width="1"/>
<line x1="221.50" y1="296.80" x2="221.50" y2="307.10" stroke="#6e6e6e" stroke-width="1"/>
<text x="169.00" y="298.40" font-family="Caladea, 'Liberation Serif', serif" font-size="12.0" font-weight="bold" fill="#1a1a1a" stroke="#1a1a1a" stroke-width="0.25" textLength="49.50" lengthAdjust="spacingAndGlyphs"><tspan font-family="Carlito, 'Liberation Sans', sans-serif" font-style="italic">p</tspan> &lt; 0.001</text>
<text x="64.50" y="386.30" font-family="Carlito, 'Liberation Sans', sans-serif" font-size="11.2" fill="#1a1a1a" stroke="#1a1a1a" stroke-width="0.22" textLength="49.20" lengthAdjust="spacingAndGlyphs">FD (n = 16)</text>
<text x="137.90" y="386.60" font-family="Carlito, 'Liberation Sans', sans-serif" font-size="11.2" fill="#1a1a1a" stroke="#1a1a1a" stroke-width="0.22" textLength="50.10" lengthAdjust="spacingAndGlyphs">GC (n = 22)</text>
<text x="211.90" y="386.50" font-family="Carlito, 'Liberation Sans', sans-serif" font-size="11.2" fill="#1a1a1a" stroke="#1a1a1a" stroke-width="0.22" textLength="50.50" lengthAdjust="spacingAndGlyphs">HC (n = 23)</text>
<text x="121.80" y="398.80" font-family="Carlito, 'Liberation Sans', sans-serif" font-size="11.5" fill="#1a1a1a" stroke="#1a1a1a" stroke-width="0.22" textLength="70.70" lengthAdjust="spacingAndGlyphs"><tspan font-style="italic">H. pylori</tspan> absent</text>
<line x1="306.50" y1="217.60" x2="306.50" y2="373.20" stroke="#7a7a7a" stroke-width="1.0"/>
<line x1="302.50" y1="373.20" x2="306.50" y2="373.20" stroke="#7a7a7a" stroke-width="1.0"/>
<text x="300.70" y="377.05" text-anchor="end" font-family="'Liberation Sans', Arial, sans-serif" font-size="11" fill="#858585">0</text>
<line x1="302.50" y1="342.08" x2="306.50" y2="342.08" stroke="#7a7a7a" stroke-width="1.0"/>
<text x="300.70" y="345.93" text-anchor="end" font-family="'Liberation Sans', Arial, sans-serif" font-size="11" fill="#858585">20</text>
<line x1="302.50" y1="310.96" x2="306.50" y2="310.96" stroke="#7a7a7a" stroke-width="1.0"/>
<text x="300.70" y="314.81" text-anchor="end" font-family="'Liberation Sans', Arial, sans-serif" font-size="11" fill="#858585">40</text>
<line x1="302.50" y1="279.84" x2="306.50" y2="279.84" stroke="#7a7a7a" stroke-width="1.0"/>
<text x="300.70" y="283.69" text-anchor="end" font-family="'Liberation Sans', Arial, sans-serif" font-size="11" fill="#858585">60</text>
<line x1="302.50" y1="248.72" x2="306.50" y2="248.72" stroke="#7a7a7a" stroke-width="1.0"/>
<text x="300.70" y="252.57" text-anchor="end" font-family="'Liberation Sans', Arial, sans-serif" font-size="11" fill="#858585">80</text>
<line x1="302.50" y1="217.60" x2="306.50" y2="217.60" stroke="#7a7a7a" stroke-width="1.0"/>
<text x="300.70" y="221.45" text-anchor="end" font-family="'Liberation Sans', Arial, sans-serif" font-size="11" fill="#858585">100</text>
<line x1="306.20" y1="373.60" x2="523.60" y2="373.60" stroke="#7a7a7a" stroke-width="1.0"/>
<text transform="translate(275.20,356.00) rotate(-90)" x="0" y="0" font-family="'Liberation Sans', Arial, sans-serif" font-weight="bold" font-size="11.2" fill="#505050" textLength="133.30" lengthAdjust="spacingAndGlyphs">Serum IL-10 level (pg/ml)</text>
<g fill="#fff" stroke="#262626" stroke-width="0.8">
<path d="M351.65 223.00L353.30 219.70L354.95 223.00Z"/>
<path d="M356.75 222.10L358.40 218.80L360.05 222.10Z"/>
<path d="M351.65 257.00L353.30 253.70L354.95 257.00Z"/>
<path d="M351.65 271.80L353.30 268.50L354.95 271.80Z"/>
<path d="M351.85 336.40L353.50 333.10L355.15 336.40Z"/>
<path d="M356.55 340.50L358.20 337.20L359.85 340.50Z"/>
<path d="M351.85 342.10L353.50 338.80L355.15 342.10Z"/>
<path d="M351.85 352.00L353.50 348.70L355.15 352.00Z"/>
<path d="M351.85 354.50L353.50 351.20L355.15 354.50Z"/>
<path d="M351.85 357.80L353.50 354.50L355.15 357.80Z"/>
<path d="M347.05 364.60L348.70 361.30L350.35 364.60Z"/>
<path d="M351.85 365.90L353.50 362.60L355.15 365.90Z"/>
<path d="M356.55 362.80L358.20 359.50L359.85 362.80Z"/>
<path d="M347.05 369.60L348.70 366.30L350.35 369.60Z"/>
<path d="M351.85 371.40L353.50 368.10L355.15 371.40Z"/>
<path d="M356.55 369.60L358.20 366.30L359.85 369.60Z"/>
<path d="M361.25 367.80L362.90 364.50L364.55 367.80Z"/>
</g>
<g fill="#fff" stroke="#6a6a6a" stroke-width="0.75">
<path d="M424.10 242.90L425.90 244.70L424.10 246.50L422.30 244.70Z"/>
<path d="M424.10 248.90L425.90 250.70L424.10 252.50L422.30 250.70Z"/>
<path d="M424.10 259.60L425.90 261.40L424.10 263.20L422.30 261.40Z"/>
<path d="M424.10 279.90L425.90 281.70L424.10 283.50L422.30 281.70Z"/>
<path d="M424.00 301.50L425.80 303.30L424.00 305.10L422.20 303.30Z"/>
<path d="M424.00 311.40L425.80 313.20L424.00 315.00L422.20 313.20Z"/>
<path d="M424.00 317.10L425.80 318.90L424.00 320.70L422.20 318.90Z"/>
<path d="M424.00 335.10L425.80 336.90L424.00 338.70L422.20 336.90Z"/>
<path d="M428.80 340.60L430.60 342.40L428.80 344.20L427.00 342.40Z"/>
<path d="M424.00 342.10L425.80 343.90L424.00 345.70L422.20 343.90Z"/>
<path d="M419.20 343.70L421.00 345.50L419.20 347.30L417.40 345.50Z"/>
<path d="M424.00 347.60L425.80 349.40L424.00 351.20L422.20 349.40Z"/>
<path d="M419.20 349.00L421.00 350.80L419.20 352.60L417.40 350.80Z"/>
<path d="M428.80 350.60L430.60 352.40L428.80 354.20L427.00 352.40Z"/>
<path d="M424.00 352.40L425.80 354.20L424.00 356.00L422.20 354.20Z"/>
<path d="M414.70 355.40L416.50 357.20L414.70 359.00L412.90 357.20Z"/>
<path d="M419.20 357.60L421.00 359.40L419.20 361.20L417.40 359.40Z"/>
<path d="M424.00 359.50L425.80 361.30L424.00 363.10L422.20 361.30Z"/>
<path d="M428.80 357.90L430.60 359.70L428.80 361.50L427.00 359.70Z"/>
<path d="M419.20 364.80L421.00 366.60L419.20 368.40L417.40 366.60Z"/>
<path d="M428.80 365.70L430.60 367.50L428.80 369.30L427.00 367.50Z"/>
<path d="M424.00 367.90L425.80 369.70L424.00 371.50L422.20 369.70Z"/>
</g>
<g fill="#fff" stroke="#262626" stroke-width="0.8">
<path d="M492.35 354.40L494.00 357.70L495.65 354.40Z"/>
<path d="M497.15 355.90L498.80 359.20L500.45 355.90Z"/>
<path d="M492.35 358.60L494.00 361.90L495.65 358.60Z"/>
<path d="M478.35 362.90L480.00 366.20L481.65 362.90Z"/>
<path d="M501.95 363.40L503.60 366.70L505.25 363.40Z"/>
<path d="M483.15 365.50L484.80 368.80L486.45 365.50Z"/>
<path d="M487.95 365.50L489.60 368.80L491.25 365.50Z"/>
<path d="M497.55 365.50L499.20 368.80L500.85 365.50Z"/>
<path d="M473.85 368.80L475.50 372.10L477.15 368.80Z"/>
<path d="M483.15 368.60L484.80 371.90L486.45 368.60Z"/>
<path d="M487.95 368.50L489.60 371.80L491.25 368.50Z"/>
<path d="M492.35 367.50L494.00 370.80L495.65 367.50Z"/>
<path d="M497.55 368.20L499.20 371.50L500.85 368.20Z"/>
<path d="M501.95 368.20L503.60 371.50L505.25 368.20Z"/>
<path d="M506.55 367.50L508.20 370.80L509.85 367.50Z"/>
<path d="M511.15 369.00L512.80 372.30L514.45 369.00Z"/>
<path d="M478.35 370.50L480.00 373.80L481.65 370.50Z"/>
<path d="M483.15 370.50L484.80 373.80L486.45 370.50Z"/>
<path d="M487.95 370.50L489.60 373.80L491.25 370.50Z"/>
<path d="M492.35 370.50L494.00 373.80L495.65 370.50Z"/>
<path d="M497.55 370.50L499.20 373.80L500.85 370.50Z"/>
<path d="M501.95 370.50L503.60 373.80L505.25 370.50Z"/>
<path d="M506.55 370.50L508.20 373.80L509.85 370.50Z"/>
</g>
<line x1="330.40" y1="352.90" x2="377.20" y2="352.90" stroke="#464646" stroke-width="1.55"/>
<line x1="400.50" y1="346.90" x2="447.70" y2="346.90" stroke="#464646" stroke-width="1.55"/>
<line x1="471.50" y1="370.50" x2="518.00" y2="370.50" stroke="#464646" stroke-width="1.55"/>
<line x1="347.20" y1="216.30" x2="495.10" y2="216.30" stroke="#6e6e6e" stroke-width="1"/>
<line x1="347.20" y1="211.00" x2="347.20" y2="222.20" stroke="#6e6e6e" stroke-width="1"/>
<line x1="495.10" y1="211.00" x2="495.10" y2="222.20" stroke="#6e6e6e" stroke-width="1"/>
<text x="392.80" y="214.00" font-family="Caladea, 'Liberation Serif', serif" font-size="12.0" font-weight="bold" fill="#1a1a1a" stroke="#1a1a1a" stroke-width="0.25" textLength="57.20" lengthAdjust="spacingAndGlyphs"><tspan font-family="Carlito, 'Liberation Sans', sans-serif" font-style="italic">p</tspan> &lt; 0.0001</text>
<line x1="364.50" y1="280.60" x2="422.40" y2="280.60" stroke="#6e6e6e" stroke-width="1"/>
<line x1="364.50" y1="276.40" x2="364.50" y2="286.20" stroke="#6e6e6e" stroke-width="1"/>
<line x1="422.40" y1="276.40" x2="422.40" y2="286.20" stroke="#6e6e6e" stroke-width="1"/>
<text x="369.40" y="276.90" font-family="Carlito, 'Liberation Sans', sans-serif" font-size="13" fill="#1a1a1a" stroke="#1a1a1a" stroke-width="0.22" textLength="31.30" lengthAdjust="spacingAndGlyphs"><tspan font-style="italic">p</tspan> = ns</text>
<line x1="430.30" y1="324.30" x2="488.20" y2="324.30" stroke="#6e6e6e" stroke-width="1"/>
<line x1="430.30" y1="318.80" x2="430.30" y2="329.00" stroke="#6e6e6e" stroke-width="1"/>
<line x1="488.20" y1="320.30" x2="488.20" y2="330.70" stroke="#6e6e6e" stroke-width="1"/>
<text x="434.50" y="317.90" font-family="Caladea, 'Liberation Serif', serif" font-size="12.0" font-weight="bold" fill="#1a1a1a" stroke="#1a1a1a" stroke-width="0.25" textLength="49.60" lengthAdjust="spacingAndGlyphs"><tspan font-family="Carlito, 'Liberation Sans', sans-serif" font-style="italic">p</tspan> &lt; 0.001</text>
<text x="335.20" y="388.20" font-family="Carlito, 'Liberation Sans', sans-serif" font-size="11.2" fill="#1a1a1a" stroke="#1a1a1a" stroke-width="0.22" textLength="49.60" lengthAdjust="spacingAndGlyphs">FD (n = 16)</text>
<text x="406.80" y="388.20" font-family="Carlito, 'Liberation Sans', sans-serif" font-size="11.2" fill="#1a1a1a" stroke="#1a1a1a" stroke-width="0.22" textLength="50.20" lengthAdjust="spacingAndGlyphs">GC (n = 22)</text>
<text x="478.00" y="390.70" font-family="Carlito, 'Liberation Sans', sans-serif" font-size="11.2" fill="#1a1a1a" stroke="#1a1a1a" stroke-width="0.22" textLength="50.50" lengthAdjust="spacingAndGlyphs">HC (n = 23)</text>
<text x="388.00" y="402.40" font-family="Carlito, 'Liberation Sans', sans-serif" font-size="11.5" fill="#1a1a1a" stroke="#1a1a1a" stroke-width="0.22" textLength="71.60" lengthAdjust="spacingAndGlyphs"><tspan font-style="italic">H. pylori</tspan> absent</text>
<line x1="563.90" y1="217.50" x2="563.90" y2="372.60" stroke="#7a7a7a" stroke-width="1.0"/>
<line x1="559.90" y1="372.60" x2="563.90" y2="372.60" stroke="#7a7a7a" stroke-width="1.0"/>
<text x="557.60" y="376.45" text-anchor="end" font-family="'Liberation Sans', Arial, sans-serif" font-size="11" fill="#858585">0</text>
<line x1="559.90" y1="341.58" x2="563.90" y2="341.58" stroke="#7a7a7a" stroke-width="1.0"/>
<text x="557.60" y="345.43" text-anchor="end" font-family="'Liberation Sans', Arial, sans-serif" font-size="11" fill="#858585">10</text>
<line x1="559.90" y1="310.56" x2="563.90" y2="310.56" stroke="#7a7a7a" stroke-width="1.0"/>
<text x="557.60" y="314.41" text-anchor="end" font-family="'Liberation Sans', Arial, sans-serif" font-size="11" fill="#858585">20</text>
<line x1="559.90" y1="279.54" x2="563.90" y2="279.54" stroke="#7a7a7a" stroke-width="1.0"/>
<text x="557.60" y="283.39" text-anchor="end" font-family="'Liberation Sans', Arial, sans-serif" font-size="11" fill="#858585">30</text>
<line x1="559.90" y1="248.52" x2="563.90" y2="248.52" stroke="#7a7a7a" stroke-width="1.0"/>
<text x="557.60" y="252.37" text-anchor="end" font-family="'Liberation Sans', Arial, sans-serif" font-size="11" fill="#858585">40</text>
<line x1="559.90" y1="217.50" x2="563.90" y2="217.50" stroke="#7a7a7a" stroke-width="1.0"/>
<text x="557.60" y="221.35" text-anchor="end" font-family="'Liberation Sans', Arial, sans-serif" font-size="11" fill="#858585">50</text>
<line x1="563.90" y1="373.00" x2="779.80" y2="373.00" stroke="#7a7a7a" stroke-width="1.0"/>
<text transform="translate(538.00,346.60) rotate(-90)" x="0" y="0" font-family="'Liberation Sans', Arial, sans-serif" font-weight="bold" font-size="9.6" fill="#505050" textLength="116.80" lengthAdjust="spacingAndGlyphs">Serum IL-8/IL-10 ratio</text>
<g fill="#fff" stroke="#262626" stroke-width="0.8">
<path d="M608.85 339.40L610.50 336.10L612.15 339.40Z"/>
<path d="M608.85 353.30L610.50 350.00L612.15 353.30Z"/>
<path d="M608.85 360.00L610.50 356.70L612.15 360.00Z"/>
<path d="M613.45 362.80L615.10 359.50L616.75 362.80Z"/>
<path d="M603.95 364.90L605.60 361.60L607.25 364.90Z"/>
<path d="M608.85 364.90L610.50 361.60L612.15 364.90Z"/>
<path d="M590.05 367.80L591.70 364.50L593.35 367.80Z"/>
<path d="M594.35 369.00L596.00 365.70L597.65 369.00Z"/>
<path d="M599.25 369.60L600.90 366.30L602.55 369.60Z"/>
<path d="M603.95 369.80L605.60 366.50L607.25 369.80Z"/>
<path d="M608.85 369.80L610.50 366.50L612.15 369.80Z"/>
<path d="M613.45 369.80L615.10 366.50L616.75 369.80Z"/>
<path d="M617.75 369.60L619.40 366.30L621.05 369.60Z"/>
<path d="M622.65 369.60L624.30 366.30L625.95 369.60Z"/>
<path d="M627.65 367.40L629.30 364.10L630.95 367.40Z"/>
<path d="M608.85 371.70L610.50 368.40L612.15 371.70Z"/>
<path d="M613.45 371.70L615.10 368.40L616.75 371.70Z"/>
</g>
<g fill="#fff" stroke="#6a6a6a" stroke-width="0.75">
<path d="M680.50 315.20L682.30 317.00L680.50 318.80L678.70 317.00Z"/>
<path d="M680.50 328.70L682.30 330.50L680.50 332.30L678.70 330.50Z"/>
<path d="M675.70 337.90L677.50 339.70L675.70 341.50L673.90 339.70Z"/>
<path d="M680.50 337.40L682.30 339.20L680.50 341.00L678.70 339.20Z"/>
<path d="M680.50 342.90L682.30 344.70L680.50 346.50L678.70 344.70Z"/>
<path d="M685.50 341.30L687.30 343.10L685.50 344.90L683.70 343.10Z"/>
<path d="M675.90 347.80L677.70 349.60L675.90 351.40L674.10 349.60Z"/>
<path d="M680.60 352.40L682.40 354.20L680.60 356.00L678.80 354.20Z"/>
<path d="M675.90 356.90L677.70 358.70L675.90 360.50L674.10 358.70Z"/>
<path d="M690.00 356.50L691.80 358.30L690.00 360.10L688.20 358.30Z"/>
<path d="M680.60 359.10L682.40 360.90L680.60 362.70L678.80 360.90Z"/>
<path d="M685.10 358.40L686.90 360.20L685.10 362.00L683.30 360.20Z"/>
<path d="M671.10 362.60L672.90 364.40L671.10 366.20L669.30 364.40Z"/>
<path d="M675.90 365.00L677.70 366.80L675.90 368.60L674.10 366.80Z"/>
<path d="M680.60 364.60L682.40 366.40L680.60 368.20L678.80 366.40Z"/>
<path d="M685.10 363.00L686.90 364.80L685.10 366.60L683.30 364.80Z"/>
<path d="M690.00 361.30L691.80 363.10L690.00 364.90L688.20 363.10Z"/>
<path d="M671.10 366.50L672.90 368.30L671.10 370.10L669.30 368.30Z"/>
<path d="M675.90 366.80L677.70 368.60L675.90 370.40L674.10 368.60Z"/>
<path d="M685.10 367.20L686.90 369.00L685.10 370.80L683.30 369.00Z"/>
<path d="M690.00 366.50L691.80 368.30L690.00 370.10L688.20 368.30Z"/>
<path d="M680.60 370.00L682.40 371.80L680.60 373.60L678.80 371.80Z"/>
</g>
<g fill="#fff" stroke="#262626" stroke-width="0.8">
<path d="M748.85 256.60L750.50 259.90L752.15 256.60Z"/>
<path d="M748.85 264.40L750.50 267.70L752.15 264.40Z"/>
<path d="M744.05 272.10L745.70 275.40L747.35 272.10Z"/>
<path d="M748.85 275.10L750.50 278.40L752.15 275.10Z"/>
<path d="M748.85 291.60L750.50 294.90L752.15 291.60Z"/>
<path d="M744.05 316.10L745.70 319.40L747.35 316.10Z"/>
<path d="M748.85 317.00L750.50 320.30L752.15 317.00Z"/>
<path d="M748.85 326.20L750.50 329.50L752.15 326.20Z"/>
<path d="M748.85 345.10L750.50 348.40L752.15 345.10Z"/>
<path d="M744.05 352.10L745.70 355.40L747.35 352.10Z"/>
<path d="M744.05 358.00L745.70 361.30L747.35 358.00Z"/>
<path d="M748.85 356.20L750.50 359.50L752.15 356.20Z"/>
<path d="M753.25 355.40L754.90 358.70L756.55 355.40Z"/>
<path d="M753.25 358.60L754.90 361.90L756.55 358.60Z"/>
<path d="M739.05 362.80L740.70 366.10L742.35 362.80Z"/>
<path d="M744.05 363.60L745.70 366.90L747.35 363.60Z"/>
<path d="M748.85 361.70L750.50 365.00L752.15 361.70Z"/>
<path d="M757.55 363.60L759.20 366.90L760.85 363.60Z"/>
<path d="M762.55 361.70L764.20 365.00L765.85 361.70Z"/>
<path d="M748.85 366.50L750.50 369.80L752.15 366.50Z"/>
<path d="M753.25 366.50L754.90 369.80L756.55 366.50Z"/>
<path d="M739.05 366.70L740.70 370.00L742.35 366.70Z"/>
<path d="M757.55 366.90L759.20 370.20L760.85 366.90Z"/>
</g>
<line x1="587.60" y1="365.30" x2="633.90" y2="365.30" stroke="#464646" stroke-width="1.55"/>
<line x1="657.80" y1="360.20" x2="704.00" y2="360.20" stroke="#464646" stroke-width="1.55"/>
<line x1="726.80" y1="354.00" x2="774.00" y2="354.00" stroke="#464646" stroke-width="1.55"/>
<line x1="602.80" y1="245.10" x2="751.20" y2="245.10" stroke="#6e6e6e" stroke-width="1"/>
<line x1="602.80" y1="240.20" x2="602.80" y2="251.50" stroke="#6e6e6e" stroke-width="1"/>
<line x1="751.20" y1="240.20" x2="751.20" y2="251.50" stroke="#6e6e6e" stroke-width="1"/>
<text x="633.10" y="239.20" font-family="Caladea, 'Liberation Serif', serif" font-size="12.0" font-weight="bold" fill="#1a1a1a" stroke="#1a1a1a" stroke-width="0.25" textLength="49.90" lengthAdjust="spacingAndGlyphs"><tspan font-family="Carlito, 'Liberation Sans', sans-serif" font-style="italic">p</tspan> = 0.004</text>
<line x1="682.80" y1="291.40" x2="740.20" y2="291.40" stroke="#6e6e6e" stroke-width="1"/>
<line x1="682.80" y1="286.00" x2="682.80" y2="296.80" stroke="#6e6e6e" stroke-width="1"/>
<line x1="740.20" y1="286.00" x2="740.20" y2="296.80" stroke="#6e6e6e" stroke-width="1"/>
<g font-family="Caladea, 'Liberation Serif', serif" font-size="12.0" font-weight="bold" fill="#1a1a1a" stroke="#1a1a1a" stroke-width="0.25">
<text x="689.70" y="286.00" font-family="Carlito, 'Liberation Sans', sans-serif" font-size="13" font-style="italic">p</text>
<text x="703.10" y="286.00" textLength="32.10" lengthAdjust="spacingAndGlyphs">&lt; 0.01</text>
</g>
<line x1="608.60" y1="327.10" x2="666.40" y2="327.10" stroke="#6e6e6e" stroke-width="1"/>
<line x1="608.60" y1="321.80" x2="608.60" y2="332.40" stroke="#6e6e6e" stroke-width="1"/>
<line x1="666.40" y1="322.50" x2="666.40" y2="333.80" stroke="#6e6e6e" stroke-width="1"/>
<text x="616.00" y="323.90" font-family="Carlito, 'Liberation Sans', sans-serif" font-size="13" fill="#1a1a1a" stroke="#1a1a1a" stroke-width="0.22" textLength="31.00" lengthAdjust="spacingAndGlyphs"><tspan font-style="italic">p</tspan> = ns</text>
<text x="582.70" y="385.80" font-family="Carlito, 'Liberation Sans', sans-serif" font-size="11.2" fill="#1a1a1a" stroke="#1a1a1a" stroke-width="0.22" textLength="49.20" lengthAdjust="spacingAndGlyphs">FD (n = 16)</text>
<text x="651.60" y="385.80" font-family="Carlito, 'Liberation Sans', sans-serif" font-size="11.2" fill="#1a1a1a" stroke="#1a1a1a" stroke-width="0.22" textLength="50.70" lengthAdjust="spacingAndGlyphs">GC (n = 22)</text>
<text x="728.30" y="385.90" font-family="Carlito, 'Liberation Sans', sans-serif" font-size="11.2" fill="#1a1a1a" stroke="#1a1a1a" stroke-width="0.22" textLength="50.30" lengthAdjust="spacingAndGlyphs">HC (n = 23)</text>
<text x="636.40" y="399.60" font-family="Carlito, 'Liberation Sans', sans-serif" font-size="11.5" fill="#1a1a1a" stroke="#1a1a1a" stroke-width="0.22" textLength="71.10" lengthAdjust="spacingAndGlyphs"><tspan font-style="italic">H. pylori</tspan> absent</text>
</svg>
</body></html>
